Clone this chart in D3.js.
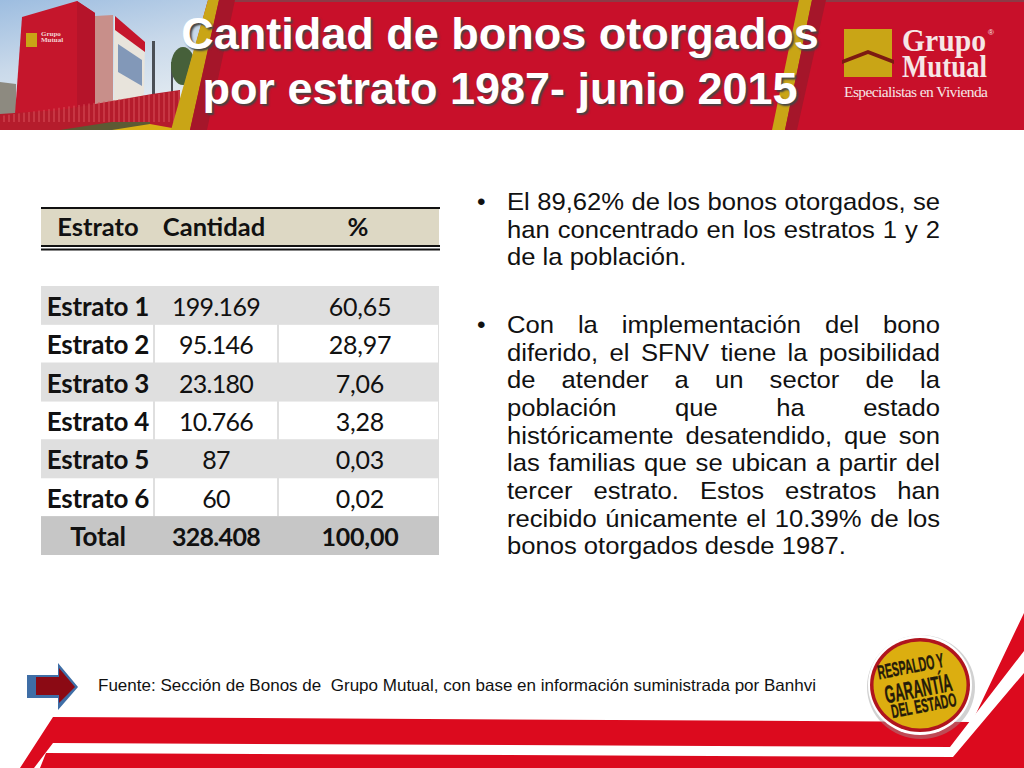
<!DOCTYPE html>
<html>
<head>
<meta charset="utf-8">
<style>
  html, body { margin: 0; padding: 0; background: #fff; overflow: hidden; }
  svg { display: block; }
</style>
<script src="https://cdn.jsdelivr.net/npm/d3@7"></script>
</head>
<body>
<div class="canvas"></div>
<script>
const columns = ['Estrato', 'Cantidad', '%'];
const estratos = ['Estrato 1', 'Estrato 2', 'Estrato 3', 'Estrato 4', 'Estrato 5', 'Estrato 6', 'Total'];
const cantidades = ['199.169', '95.146', '23.180', '10.766', '87', '60', '328.408'];
const porcentajes = ['60,65', '28,97', '7,06', '3,28', '0,03', '0,02', '100,00'];

const titleLines = ['Cantidad de bonos otorgados', 'por estrato 1987- junio 2015'];
const bullet1 = [
  'El 89,62% de los bonos otorgados, se',
  'han concentrado en los estratos 1 y 2',
  'de la población.'
];
const bullet2 = [
  'Con la implementación del bono',
  'diferido, el SFNV tiene la posibilidad',
  'de atender a un sector de la',
  'población que ha estado',
  'históricamente desatendido, que son',
  'las familias que se ubican a partir del',
  'tercer estrato. Estos estratos han',
  'recibido únicamente el 10.39% de los',
  'bonos otorgados desde 1987.'
];
const fuente = 'Fuente: Sección de Bonos de  Grupo Mutual, con base en información suministrada por Banhvi';

const svg = d3.select('.canvas')
  .append('svg')
  .attr('width', 1024)
  .attr('height', 768);

const poly = (g, pts, fill) => g.append('polygon').attr('points', pts).attr('fill', fill);

const defs = svg.append('defs');
const sky = defs.append('linearGradient').attr('id', 'sky').attr('x1', 0).attr('y1', 0).attr('x2', 0.3).attr('y2', 1);
sky.append('stop').attr('offset', 0).attr('stop-color', '#9dbde0');
sky.append('stop').attr('offset', 0.5).attr('stop-color', '#c9d9ea');
sky.append('stop').attr('offset', 1).attr('stop-color', '#e6edf2');
defs.append('clipPath').attr('id', 'photoClip')
  .append('polygon').attr('points', '0,0 208,0 172,130 0,130');

// header band
const header = svg.append('g');
header.append('rect').attr('width', 1024).attr('height', 130).attr('fill', '#c8102a');
header.append('rect').attr('width', 1024).attr('height', 2).attr('fill', '#8c3a46');

// photo of the building, only rough shapes
const photo = header.append('g').attr('clip-path', 'url(#photoClip)');
photo.append('rect').attr('width', 210).attr('height', 130).attr('fill', 'url(#sky)');
poly(photo, '0,82 16,84 16,130 0,130', '#8d8a80');
poly(photo, '95,16 113,15 113,112 95,112', '#c88f8a');
poly(photo, '114,16 145,44 144,92 142,108 114,108', '#e8e4dc');
poly(photo, '115,16 145,42 145,52 115,30', '#c5162c');
poly(photo, '118,44 142,60 142,86 118,72', '#8298b8');
poly(photo, '22,17 77,1 95,13 95,112 15,114', '#c5162c');
poly(photo, '77,1 95,13 95,112 77,112', '#b5142a');
photo.append('rect').attr('x', 26).attr('y', 33).attr('width', 11).attr('height', 14).attr('fill', '#c9a516');
photo.append('text').attr('x', 41).attr('y', 36).attr('font-family', 'Liberation Serif').attr('font-size', 7)
  .attr('font-weight', 'bold').attr('fill', '#f3d7d7').text('Grupo');
photo.append('text').attr('x', 41).attr('y', 42).attr('font-family', 'Liberation Serif').attr('font-size', 7)
  .attr('font-weight', 'bold').attr('fill', '#f3d7d7').text('Mutual');
photo.append('rect').attr('x', 152).attr('y', 41).attr('width', 3).attr('height', 55).attr('fill', '#4a4f55');
photo.append('rect').attr('x', 171).attr('y', 62).attr('width', 2).attr('height', 30).attr('fill', '#4a4f55');
photo.append('ellipse').attr('cx', 183).attr('cy', 66).attr('rx', 12).attr('ry', 19).attr('fill', '#46603a');

// fence in front of the building
poly(photo, '0,114 60,110 95,104 152,94 180,90 180,130 0,130', '#b51c2c');
const fence = photo.append('g').attr('stroke', '#d8505a').attr('stroke-width', 1);
fence.selectAll('line')
  .data(d3.range(4, 180, 5))
  .enter()
  .append('line')
    .attr('x1', d => d).attr('x2', d => d)
    .attr('y1', d => 116 - d * 0.14).attr('y2', 122);
poly(photo, '60,130 112,122 150,122 150,130', '#5c5a34');
poly(photo, '112,130 150,124 172,128 172,130', '#d9b014');

// the slanted stripes
poly(header, '208,0 219,0 190,130 171,130', '#c9a516');
poly(header, '219,0 235,0 207,130 190,130', '#a5162a');
poly(header, '799,0 812,0 785,130 772,130', '#c9a516');
poly(header, '812,0 826,0 797,130 785,130', '#a5162a');

// logo
const logo = header.append('g');
logo.append('rect').attr('x', 844).attr('y', 29).attr('width', 48).attr('height', 48).attr('fill', '#c9a516');
poly(logo, '842,60 868,50 894,60 894,64 868,54 842,64', '#7c1a12');
logo.append('text').attr('x', 902).attr('y', 51).attr('font-family', 'Liberation Serif')
  .attr('font-weight', 'bold').attr('font-size', 31).attr('fill', '#f6e6e6')
  .attr('textLength', 84).attr('lengthAdjust', 'spacingAndGlyphs').text('Grupo');
logo.append('text').attr('x', 902).attr('y', 77).attr('font-family', 'Liberation Serif')
  .attr('font-weight', 'bold').attr('font-size', 31).attr('fill', '#f6e6e6')
  .attr('textLength', 85).attr('lengthAdjust', 'spacingAndGlyphs').text('Mutual');
logo.append('text').attr('x', 988).attr('y', 35).attr('font-family', 'Liberation Sans').attr('font-size', 8).attr('fill', '#f6e6e6').text('®');
logo.append('text').attr('x', 844).attr('y', 97).attr('font-family', 'Liberation Serif')
  .attr('font-size', 15.5).attr('fill', '#f6e6e6').attr('textLength', 144).text('Especialistas en Vivienda');

// title
svg.append('g').selectAll('text')
  .data(titleLines)
  .enter()
  .append('text')
    .attr('x', 500)
    .attr('y', (d, i) => 49 + i * 55)
    .attr('text-anchor', 'middle')
    .attr('font-family', 'Liberation Sans')
    .attr('font-weight', 'bold')
    .attr('font-size', 45)
    .attr('fill', '#fff')
    .style('text-shadow', '2px 2px 2px #444')
    .text(d => d);

// table
const colX = d3.scaleOrdinal().domain([0, 1, 2]).range([41, 155, 279]);
const colW = d3.scaleOrdinal().domain([0, 1, 2]).range([112, 122, 159]);
const rowY = d3.scaleBand().domain(d3.range(estratos.length)).range([286, 554.5]);

const table = svg.append('g').attr('font-family', 'Lato').attr('fill', '#111');

table.append('rect').attr('x', 41).attr('y', 208).attr('width', 398).attr('height', 37).attr('fill', '#ddd8c4');
[[207, 2], [245, 2], [248.5, 2]].forEach(([y, h]) => {
  table.append('rect').attr('x', 41).attr('y', y).attr('width', 399).attr('height', h).attr('fill', '#111');
});

const headX = [98, 214, 358];
table.selectAll('.head')
  .data(columns)
  .enter()
  .append('text')
    .attr('class', 'head')
    .attr('x', (d, i) => headX[i])
    .attr('y', 236)
    .attr('text-anchor', 'middle')
    .attr('font-weight', 'bold')
    .attr('font-size', 25.5)
    .text(d => d);

const rows = table.selectAll('.row')
  .data(estratos.map((e, i) => ({ i, cells: [e, cantidades[i], porcentajes[i]] })))
  .enter()
  .append('g')
    .attr('class', 'row')
    .attr('transform', d => `translate(0, ${rowY(d.i)})`);

rows.append('rect')
  .attr('x', 41).attr('width', 398).attr('height', rowY.bandwidth() + 0.5)
  .attr('fill', d => d.i === 6 ? '#c6c6c6' : '#dfdfdf');

// white rows have separate white cells
rows.filter(d => d.i % 2 === 1).selectAll('.cell')
  .data(d3.range(3))
  .enter()
  .append('rect')
    .attr('class', 'cell')
    .attr('x', c => colX(c))
    .attr('y', 0.5)
    .attr('width', c => colW(c))
    .attr('height', rowY.bandwidth() - 0.5)
    .attr('fill', '#fff');

const cellX = [98, 216, 360];
rows.selectAll('.val')
  .data(d => d.cells.map((t, c) => ({ t, c, i: d.i })))
  .enter()
  .append('text')
    .attr('class', 'val')
    .attr('x', d => cellX[d.c])
    .attr('y', 30)
    .attr('text-anchor', 'middle')
    .attr('font-size', d => d.c === 0 ? 26 : 25)
    .attr('font-weight', d => (d.c === 0 || d.i === 6) ? 'bold' : 'normal')
    .style('letter-spacing', d => d.c === 1 ? '-0.7px' : '-0.2px')
    .text(d => d.t);

// bullets, justified by hand with word-spacing
// the slide was stretched sideways so the text gets a small x scale too
const bodyScale = 1.05;
const textG = svg.append('g')
  .attr('font-family', 'Liberation Sans')
  .attr('font-size', 24.4)
  .attr('fill', '#111');

function para(lines, y0, justifyTo) {
  textG.append('text').attr('x', 477).attr('y', y0).text('•');
  lines.forEach((line, i) => {
    const t = textG.append('text')
      .attr('transform', `translate(507, ${y0 + i * 27.65}) scale(${bodyScale}, 1)`)
      .text(line);
    if (i < justifyTo) {
      const w = t.node().getComputedTextLength();
      const gaps = line.split(' ').length - 1;
      t.attr('word-spacing', (433 / bodyScale - w) / gaps);
    }
  });
}
para(bullet1, 210, 2);
para(bullet2, 333, 8);

// nav arrow
poly(svg, '27,675 58,675 58,663 78,687 58,710 58,698 27,698', '#3f6ea6');
poly(svg, '36,677 59,677 59,668 75,687 59,703 59,695 36,695', '#8b0a14');

// source line
svg.append('text')
  .attr('x', 98)
  .attr('y', 691)
  .attr('font-family', 'Liberation Sans')
  .attr('font-size', 16.5)
  .attr('fill', '#111')
  .attr('textLength', 718)
  .attr('lengthAdjust', 'spacingAndGlyphs')
  .style('white-space', 'pre')
  .text(fuente);

// red bands at the bottom
poly(svg, '53,717 972,722 1024,613 1024,768 20,768', '#dc0a1e');
poly(svg, '53,743 950,747 1024,651 1024,673 953,757 46,753 40,768 34,768', '#fff');

// badge
const badge = svg.append('g').attr('transform', 'translate(920, 685)');
badge.append('ellipse').attr('cx', 1).attr('cy', 2).attr('rx', 54).attr('ry', 52).attr('fill', '#999').attr('opacity', 0.45);
badge.append('ellipse').attr('rx', 52).attr('ry', 50).attr('fill', '#fff');
badge.append('ellipse').attr('rx', 50).attr('ry', 47).attr('fill', '#b0141e');
badge.append('ellipse').attr('rx', 46.5).attr('ry', 43.5).attr('fill', '#dcae10');
const badgeLines = ['RESPALDO Y', 'GARANTÍA', 'DEL ESTADO'];
const badgeLen = [67, 68, 66];
const badgeSize = [20, 25, 19];
const badgePos = [[-8, -12], [0, 12], [5, 27]];
badge.selectAll('.b')
  .data(badgeLines)
  .enter()
  .append('text')
    .attr('class', 'b')
    .attr('text-anchor', 'middle')
    .attr('font-family', 'Liberation Sans')
    .attr('font-weight', 'bold')
    .attr('font-size', (d, i) => badgeSize[i])
    .attr('textLength', (d, i) => badgeLen[i])
    .attr('lengthAdjust', 'spacingAndGlyphs')
    .attr('fill', '#241a0a')
    .attr('stroke', '#241a0a')
    .attr('stroke-width', 0.4)
    .attr('transform', (d, i) => `translate(${badgePos[i][0]}, ${badgePos[i][1]}) rotate(-11)`)
    .text(d => d);
</script>
</body>
</html>
